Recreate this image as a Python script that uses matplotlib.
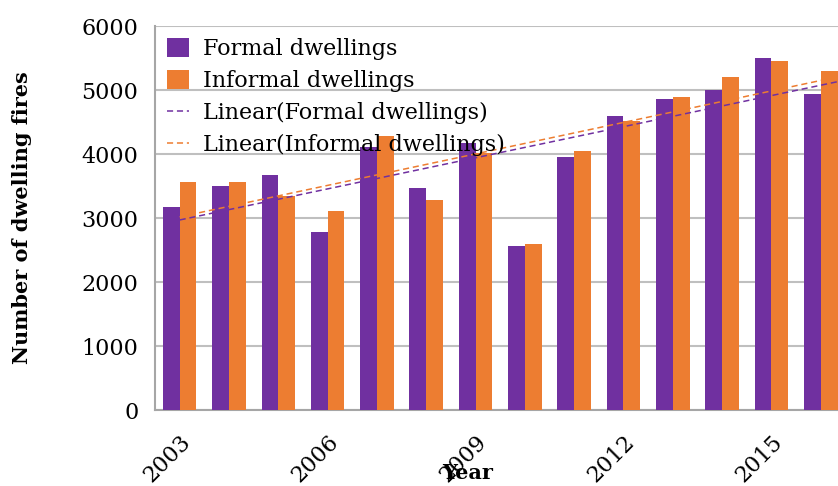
import numpy as np
import matplotlib
matplotlib.use("Agg")
import matplotlib.pyplot as plt

# 各年份住宅火災數
years = list(range(2003, 2017))
formal = [3170, 3500, 3680, 2790, 4110, 3470, 4180, 2570, 3950, 4600, 4860, 5000, 5500, 4940]
informal = [3570, 3570, 3340, 3110, 4280, 3280, 4020, 2590, 4050, 4520, 4890, 5200, 5460, 5300]
tick_years = [2003, 2006, 2009, 2012, 2015]
yticks = [0, 1000, 2000, 3000, 4000, 5000, 6000]

PURPLE = "#7030A0"
ORANGE = "#ED7D31"
GRID = "#BFBFBF"

plt.rcParams["font.family"] = ["DejaVu Serif"]

fig = plt.figure(figsize=(8.38, 4.86), dpi=100)
ax = fig.add_axes([0.185, 0.156, 0.815, 0.7905])

x = np.arange(len(years))
w = 0.34
b1 = ax.bar(x - w / 2, formal, w, color=PURPLE, label="Formal dwellings", zorder=3)
b2 = ax.bar(x + w / 2, informal, w, color=ORANGE, label="Informal dwellings", zorder=3)

# Excel 式線性趨勢線
lines = []
for vals, col, name in [(formal, PURPLE, "Formal dwellings"),
                        (informal, ORANGE, "Informal dwellings")]:
    k, b = np.polyfit(x, vals, 1)
    xx = np.array([0, 13.35])
    ln, = ax.plot(xx, k * xx + b, ls=(0, (4, 2.5)), lw=1.1, color=col,
                  label=f"Linear({name})", zorder=4)
    lines.append(ln)

ax.set_xlim(-0.5, 13.35)
ax.set_ylim(0, 6000)
ax.set_yticks(yticks)
ax.set_yticklabels([str(v) for v in yticks], fontsize=16)
ax.set_xticks([years.index(t) for t in tick_years])
ax.set_xticklabels([str(t) for t in tick_years], rotation=45, ha="right",
                   rotation_mode="anchor", fontsize=16)
ax.tick_params(length=0, pad=12)
ax.tick_params(axis="x", pad=15)

ax.grid(axis="y", color=GRID, lw=1.5, zorder=0)
for s in ["top", "right"]:
    ax.spines[s].set_visible(False)
for s in ["left", "bottom"]:
    ax.spines[s].set_color("#A6A6A6")
    ax.spines[s].set_linewidth(1.5)

ax.set_ylabel("Number of dwelling fires", fontsize=15, fontweight="bold")
ax.yaxis.set_label_coords(-0.18, 0.5)
fig.text(0.558, 0.015, "Year", fontsize=15, fontweight="bold", ha="center")

ax.legend([b1, b2] + lines,
          ["Formal dwellings", "Informal dwellings",
           "Linear(Formal dwellings)", "Linear(Informal dwellings)"],
          loc="upper left", frameon=False, fontsize=16, handlelength=1.0,
          handleheight=0.9, handletextpad=0.6, labelspacing=0.45,
          borderaxespad=0.15, bbox_to_anchor=(0.0, 1.0))

fig.savefig("out.png", dpi=100)
